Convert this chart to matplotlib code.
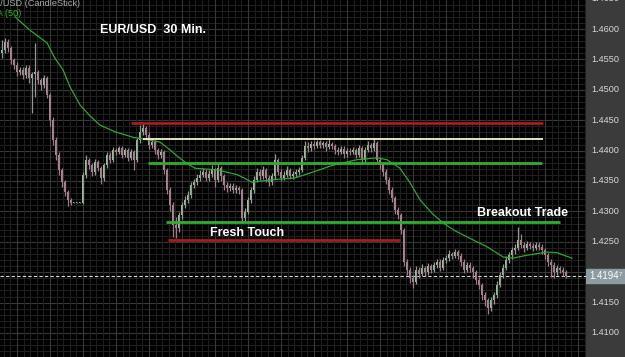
import matplotlib
matplotlib.use("Agg")
import matplotlib.pyplot as plt
import numpy as np

# ---------------- data ----------------
closes = [1.4566, 1.4579, 1.4569, 1.4549, 1.4541, 1.4529, 1.4533, 1.4524, 1.4536, 1.4519,
          1.4526, 1.4529, 1.4516, 1.4508, 1.4519, 1.4492, 1.4450, 1.4417, 1.4393, 1.4368,
          1.4348, 1.4332, 1.4319, 1.4314, 1.4314, 1.4314, 1.4314, 1.4360, 1.4385, 1.4376,
          1.4365, 1.4381, 1.4371, 1.4355, 1.4376, 1.4393, 1.4385, 1.4401, 1.4398, 1.4404,
          1.4393, 1.4401, 1.4388, 1.4398, 1.4385, 1.4417, 1.4431, 1.4437, 1.4426, 1.4409,
          1.4414, 1.4401, 1.4393, 1.4398, 1.4368, 1.4335, 1.4311, 1.4278, 1.4273, 1.4294,
          1.4311, 1.4319, 1.4327, 1.4343, 1.4348, 1.4355, 1.4360, 1.4365, 1.4355, 1.4362,
          1.4368, 1.4352, 1.4371, 1.4358, 1.4343, 1.4339, 1.4342, 1.4335, 1.4339, 1.4335,
          1.4289, 1.4299, 1.4319, 1.4335, 1.4352, 1.4365, 1.4358, 1.4368, 1.4355, 1.4348,
          1.4358, 1.4385, 1.4365, 1.4355, 1.4360, 1.4368, 1.4358, 1.4362, 1.4365, 1.4368,
          1.4388, 1.4408, 1.4404, 1.4411, 1.4408, 1.4414, 1.4409, 1.4412, 1.4406, 1.4411,
          1.4408, 1.4401, 1.4398, 1.4403, 1.4394, 1.4399, 1.4398, 1.4401, 1.4393, 1.4404,
          1.4385, 1.4401, 1.4409, 1.4404, 1.4412, 1.4385, 1.4376, 1.4365, 1.4352, 1.4335,
          1.4322, 1.4302, 1.4294, 1.4269, 1.4217, 1.4204, 1.4190, 1.4184, 1.4204, 1.4197,
          1.4207, 1.4200, 1.4210, 1.4204, 1.4212, 1.4217, 1.4207, 1.4220, 1.4223, 1.4230,
          1.4227, 1.4233, 1.4227, 1.4217, 1.4204, 1.4212, 1.4207, 1.4200, 1.4187, 1.4179,
          1.4162, 1.4154, 1.4141, 1.4154, 1.4162, 1.4179, 1.4195, 1.4207, 1.4220, 1.4228,
          1.4236, 1.4240, 1.4253, 1.4245, 1.4240, 1.4246, 1.4243, 1.4240, 1.4245, 1.4241,
          1.4236, 1.4228, 1.4217, 1.4212, 1.4200, 1.4207, 1.4204, 1.4200, 1.4194]
first_open = 1.4560
highs = [1.4582, 1.4585, 1.4584, 1.4572, 1.4553, 1.4545, 1.4538, 1.4537, 1.4541, 1.4540,
         1.4530, 1.4577, 1.4533, 1.4520, 1.4524, 1.4522, 1.4495, 1.4455, 1.4422, 1.4398,
         1.4372, 1.4352, 1.4336, 1.4322, 1.4316, 1.4316, 1.4316, 1.4364, 1.4392, 1.4388,
         1.4380, 1.4386, 1.4384, 1.4375, 1.4380, 1.4398, 1.4397, 1.4406, 1.4405, 1.4408,
         1.4407, 1.4405, 1.4404, 1.4402, 1.4401, 1.4421, 1.4442, 1.4445, 1.4441, 1.4430,
         1.4420, 1.4417, 1.4405, 1.4403, 1.4401, 1.4372, 1.4340, 1.4315, 1.4290, 1.4299,
         1.4316, 1.4325, 1.4333, 1.4348, 1.4354, 1.4361, 1.4368, 1.4372, 1.4370, 1.4368,
         1.4376, 1.4372, 1.4378, 1.4375, 1.4362, 1.4348, 1.4347, 1.4346, 1.4344, 1.4342,
         1.4338, 1.4305, 1.4324, 1.4340, 1.4358, 1.4371, 1.4369, 1.4374, 1.4371, 1.4360,
         1.4363, 1.4394, 1.4388, 1.4369, 1.4366, 1.4374, 1.4372, 1.4367, 1.4370, 1.4373,
         1.4393, 1.4415, 1.4414, 1.4416, 1.4415, 1.4418, 1.4417, 1.4416, 1.4415, 1.4419,
         1.4414, 1.4411, 1.4406, 1.4408, 1.4407, 1.4404, 1.4404, 1.4406, 1.4405, 1.4409,
         1.4407, 1.4406, 1.4415, 1.4413, 1.4420, 1.4415, 1.4390, 1.4380, 1.4369, 1.4356,
         1.4340, 1.4326, 1.4307, 1.4298, 1.4273, 1.4222, 1.4209, 1.4196, 1.4210, 1.4208,
         1.4213, 1.4211, 1.4215, 1.4214, 1.4217, 1.4222, 1.4221, 1.4225, 1.4228, 1.4236,
         1.4234, 1.4238, 1.4237, 1.4231, 1.4221, 1.4217, 1.4216, 1.4211, 1.4204, 1.4192,
         1.4183, 1.4167, 1.4158, 1.4160, 1.4168, 1.4185, 1.4201, 1.4214, 1.4226, 1.4234,
         1.4242, 1.4247, 1.4275, 1.4262, 1.4250, 1.4251, 1.4250, 1.4248, 1.4250, 1.4249,
         1.4246, 1.4240, 1.4232, 1.4222, 1.4216, 1.4212, 1.4211, 1.4208, 1.4204]
lows = [1.4552, 1.4560, 1.4562, 1.4543, 1.4535, 1.4522, 1.4524, 1.4518, 1.4520, 1.4512,
        1.4462, 1.4488, 1.4510, 1.4500, 1.4503, 1.4486, 1.4440, 1.4410, 1.4385, 1.4360,
        1.4340, 1.4325, 1.4309, 1.4311, 1.4313, 1.4313, 1.4313, 1.4312, 1.4355, 1.4370,
        1.4358, 1.4360, 1.4366, 1.4345, 1.4350, 1.4372, 1.4380, 1.4382, 1.4392, 1.4394,
        1.4388, 1.4390, 1.4383, 1.4384, 1.4368, 1.4382, 1.4412, 1.4425, 1.4420, 1.4403,
        1.4404, 1.4395, 1.4386, 1.4388, 1.4362, 1.4328, 1.4300, 1.4258, 1.4256, 1.4266,
        1.4288, 1.4305, 1.4314, 1.4322, 1.4338, 1.4343, 1.4350, 1.4356, 1.4350, 1.4350,
        1.4357, 1.4340, 1.4348, 1.4350, 1.4336, 1.4332, 1.4334, 1.4330, 1.4331, 1.4328,
        1.4281, 1.4284, 1.4295, 1.4314, 1.4330, 1.4348, 1.4352, 1.4354, 1.4349, 1.4342,
        1.4344, 1.4354, 1.4360, 1.4350, 1.4351, 1.4356, 1.4353, 1.4354, 1.4357, 1.4360,
        1.4364, 1.4384, 1.4398, 1.4400, 1.4403, 1.4404, 1.4404, 1.4405, 1.4400, 1.4402,
        1.4402, 1.4395, 1.4392, 1.4394, 1.4388, 1.4390, 1.4393, 1.4394, 1.4387, 1.4389,
        1.4378, 1.4382, 1.4397, 1.4398, 1.4400, 1.4380, 1.4370, 1.4358, 1.4345, 1.4328,
        1.4315, 1.4296, 1.4288, 1.4262, 1.4210, 1.4196, 1.4182, 1.4174, 1.4180, 1.4191,
        1.4193, 1.4194, 1.4196, 1.4198, 1.4200, 1.4207, 1.4202, 1.4203, 1.4215, 1.4218,
        1.4222, 1.4223, 1.4221, 1.4211, 1.4198, 1.4200, 1.4201, 1.4190, 1.4180, 1.4172,
        1.4155, 1.4145, 1.4132, 1.4136, 1.4148, 1.4157, 1.4175, 1.4190, 1.4203, 1.4215,
        1.4222, 1.4230, 1.4236, 1.4240, 1.4234, 1.4236, 1.4238, 1.4235, 1.4236, 1.4236,
        1.4230, 1.4222, 1.4210, 1.4192, 1.4190, 1.4196, 1.4198, 1.4194, 1.4190]

# SMA(50): (bar index, value)
sma_idx = [4.5, 9.5, 15.2, 17.8, 20.5, 22.8, 26.2, 29.5, 32.8, 37.8, 43.8, 49.5, 52.8,
           56.2, 58.8, 61.5, 64.5, 72.2, 78.8, 83.5, 90.2, 97.8, 102.8, 110.5, 118.5,
           125.2, 128.5, 132.8, 136.2, 139.5, 143.5, 147.2, 151.2, 155.2, 158.5, 161.8,
           167.2, 170.5, 175.2, 181.8, 185.2, 190.2]
sma_val = [1.4620, 1.4598, 1.4577, 1.4552, 1.4533, 1.4505, 1.4475, 1.4457, 1.4442, 1.4431,
           1.4422, 1.4417, 1.4414, 1.4401, 1.4390, 1.4380, 1.4371, 1.4368, 1.4360, 1.4348,
           1.4352, 1.4355, 1.4363, 1.4376, 1.4385, 1.4388, 1.4385, 1.4371, 1.4347, 1.4319,
           1.4297, 1.4281, 1.4268, 1.4258, 1.4250, 1.4242, 1.4225, 1.4223, 1.4228, 1.4233,
           1.4232, 1.4223]

# horizontal levels: price, start bar, end bar, colour
level_price = [1.4445, 1.4419, 1.4379, 1.4283, 1.4253]
level_start = [43.2, 47.2, 48.8, 54.8, 55.5]
level_end = [180.5, 180.5, 180.2, 186.2, 132.8]
level_color = ["#a81c1c", "#f4f4c8", "#2fae2f", "#2fae2f", "#a81c1c"]
level_width = [2.0, 1.3, 2.0, 2.0, 2.0]

last_price = 1.4194
tick_values = [1.4100, 1.4150, 1.4200, 1.4250, 1.4300, 1.4350, 1.4400, 1.4450,
               1.4500, 1.4550, 1.4600, 1.4650]
tick_labels = ["%.4f" % v for v in tick_values]

# ---------------- figure ----------------
W, H = 625, 357
fig = plt.figure(figsize=(W / 100, H / 100), dpi=100, facecolor="black")
ax = fig.add_axes([0, 0, 586 / W, 1])
ax.set_facecolor("black")
ymin, ymax = 1.40605, 1.46477
xmin, xmax = -0.5, 194.83
ax.set_xlim(xmin, xmax)
ax.set_ylim(ymin, ymax)
for s in ax.spines.values():
    s.set_visible(False)
ax.set_xticks([])
ax.set_yticks([])

# grid
for v in np.arange(1.406, 1.465, 0.001):
    ax.axhline(v, color="#1f1f1f", lw=0.8, zorder=0)
for v in tick_values:
    ax.axhline(v, color="#383838", lw=0.8, zorder=0)
for k in range(-5, 100):
    xv = (17 + 6.6 * k - 1.5) / 3
    if xmin <= xv <= xmax:
        ax.axvline(xv, color="#383838" if k % 5 == 0 else "#1f1f1f", lw=0.8, zorder=0)

# candles
n = len(closes)
opens = [first_open] + closes[:-1]
xs = np.arange(n)
bull_c, bear_c = "#8cc48c", "#b08090"
for i in range(n):
    o, c, h, l = opens[i], closes[i], highs[i], lows[i]
    col = bull_c if c >= o else bear_c
    ax.vlines(xs[i], l, h, color="#969696" if c >= o else "#9c7c86", lw=0.9, zorder=2)
    lo, hi = min(o, c), max(o, c)
    if hi - lo < 0.00008:
        hi = lo + 0.00008
    ax.bar(xs[i], hi - lo, bottom=lo, width=0.6, color=col, lw=0, zorder=3)

# SMA
ax.plot(sma_idx, sma_val, color="#2ea82e", lw=0.9, zorder=4)

# levels
for p, a, b, c, w in zip(level_price, level_start, level_end, level_color, level_width):
    ax.hlines(p, a, b, color=c, lw=w, zorder=5)

# current price dashed line
ax.axhline(last_price, color="#d8d8d8", lw=0.8, ls=(0, (3, 2)), zorder=1)

# annotations
bold = dict(color="white", fontweight="bold", family="Liberation Sans", fontsize=9)
fig.text(100 / W, 1 - 30 / H, "EUR/USD  30 Min.", va="center", ha="left", **bold)
fig.text(210 / W, 1 - 233 / H, "Fresh Touch", va="center", ha="left", **bold)
fig.text(477 / W, 1 - 213 / H, "Breakout Trade", va="center", ha="left", **bold)
fig.text(80 / W, 1 - 4 / H, "EUR/USD (CandleStick)", color="#a8a8a8", fontsize=6.6,
         family="Liberation Sans", ha="right", va="center")
fig.text(21 / W, 1 - 13 / H, "SMA (50)", color="#2ec02e", fontsize=6.6,
         family="Liberation Sans", ha="right", va="center")

# right price panel
pax = fig.add_axes([586 / W, 0, 39 / W, 1])
pax.set_facecolor("#3b3b3b")
pax.set_xlim(0, 1)
pax.set_ylim(ymin, ymax)
pax.set_xticks([])
pax.set_yticks([])
for s in pax.spines.values():
    s.set_visible(False)
for v, lab in zip(tick_values, tick_labels):
    pax.text(5 / 39, v, lab, color="#d8d8d8", fontsize=6.6, family="Liberation Sans",
             ha="left", va="center", clip_on=False)
pax.axhspan(last_price - 0.0011, last_price + 0.0011, color="#8d9ba2", zorder=5)
pax.text(3 / 39, last_price, "%.4f" % last_price, color="white", fontsize=6.9,
         family="Liberation Sans", ha="left", va="center", zorder=6)
pax.text(33 / 39, last_price + 0.0003, "7", color="white", fontsize=4.5,
         family="Liberation Sans", ha="left", va="center", zorder=6)

fig.savefig("out.png", dpi=100, facecolor="black")
